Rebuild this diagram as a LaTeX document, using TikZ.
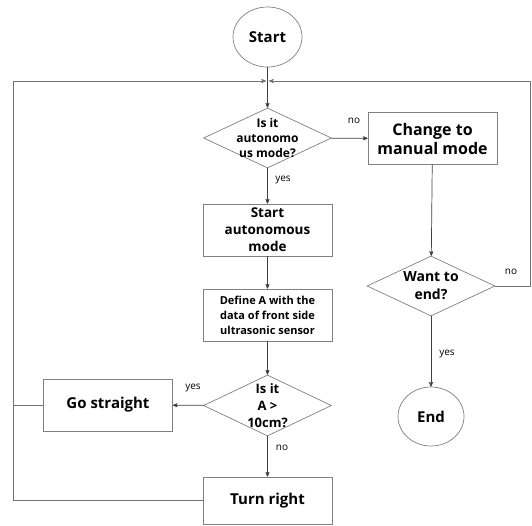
\documentclass[tikz,border=0pt]{standalone}
\usepackage{fontspec}
\setsansfont{Open Sans}
\usetikzlibrary{arrows, shapes.geometric}
\tikzset{
  base_n/.style = {align=center, inner sep=0pt, text centered,
    font=\sffamily\bfseries, draw=black!50, line width=0.7pt, fill=white},
  term_n/.style = {base_n, ellipse, font=\sffamily\bfseries\fontsize{15}{17}\selectfont},
  proc_n/.style = {base_n, rectangle, minimum width=129pt, minimum height=52pt},
  dec_n/.style = {base_n, diamond, aspect=2.1, minimum width=128pt, minimum height=60pt},
  dec_t/.style = {align=center, inner sep=0pt, font=\sffamily\bfseries},
  lbl_n/.style = {font=\sffamily\fontsize{10}{12}\selectfont, inner sep=0pt},
  conn/.style = {draw=black!75, line width=0.7pt}}

\begin{document}
\begin{tikzpicture}[x=1pt, y=-1pt, ->, >=stealth']
\useasboundingbox (0,0) rectangle (532,525);

\node [term_n, minimum width=69pt, minimum height=60pt] (start) at (267.5,37) {Start};
\coordinate (join) at (267.5,81);

\node [dec_n] (auto) at (267.5,138) {};
\node [dec_t, font=\sffamily\bfseries\fontsize{12}{15}\selectfont] (autoq) at (auto)
  {Is it\\autonomo\\us mode?};
\node [proc_n, font=\sffamily\bfseries\fontsize{16}{19}\selectfont] (manual) at (432.5,138.5)
  {Change to\\manual mode};
\node [proc_n, font=\sffamily\bfseries\fontsize{13.5}{17}\selectfont] (auton) at (267.5,230)
  {Start\\autonomous\\mode};
\node [proc_n, font=\sffamily\bfseries\fontsize{11}{15}\selectfont] (define) at (267.5,315)
  {Define A with the\\data of front side\\ultrasonic sensor};
\node [dec_n, minimum height=61pt] (dist) at (267.5,405.5) {};
\node [dec_t, font=\sffamily\bfseries\fontsize{13}{17}\selectfont] (distq) at (dist)
  {Is it\\A >\\10cm?};
\node [proc_n, font=\sffamily\bfseries\fontsize{15}{18}\selectfont] (straight) at (108,405)
  {Go straight};
\node [proc_n, minimum height=47pt, font=\sffamily\bfseries\fontsize{15}{18}\selectfont] (turn) at (267.5,500.5)
  {Turn right};
\node [dec_n] (wantend) at (431,286) {};
\node [dec_t, font=\sffamily\bfseries\fontsize{14}{18}\selectfont] (wantq) at (wantend)
  {Want to\\end?};
\node [term_n, minimum width=66pt, minimum height=59pt] (end) at (431,416.5) {End};

\coordinate (lbend) at (13.5,81);
\coordinate (lmid) at (13.5,405);
\coordinate (lbot) at (13.5,500.5);
\coordinate (rtop) at (530,81);
\coordinate (rmid) at (530,286);

\draw [conn, -] (start) -- (join);
\draw [conn] (join) -- (auto);
\draw [conn] (auto) -- (manual);
\draw [conn] (auto) -- (auton);
\draw [conn] (auton) -- (define);
\draw [conn] (define) -- (dist);
\draw [conn] (dist) -- (straight);
\draw [conn] (dist) -- (turn);
\draw [conn] (manual) -- (wantend);
\draw [conn] (wantend) -- (end);
\draw [conn, draw=black!55] (turn) -- (lbot) -- (lbend) -- ([xshift=-1.5pt]join);
\draw [conn, draw=black!55, -] (straight) -- (lmid);
\draw [conn, draw=black!55] (wantend.east) -- (rmid) -- (rtop) -- ([xshift=1.5pt]join);

\node [lbl_n] (no1) at (354,121) {no};
\node [lbl_n] (yes1) at (283,180) {yes};
\node [lbl_n] (yes2) at (193,388) {yes};
\node [lbl_n] (no2) at (282,448) {no};
\node [lbl_n] (no3) at (511,272) {no};
\node [lbl_n] (yes3) at (447,354) {yes};
\end{tikzpicture}
\end{document}
